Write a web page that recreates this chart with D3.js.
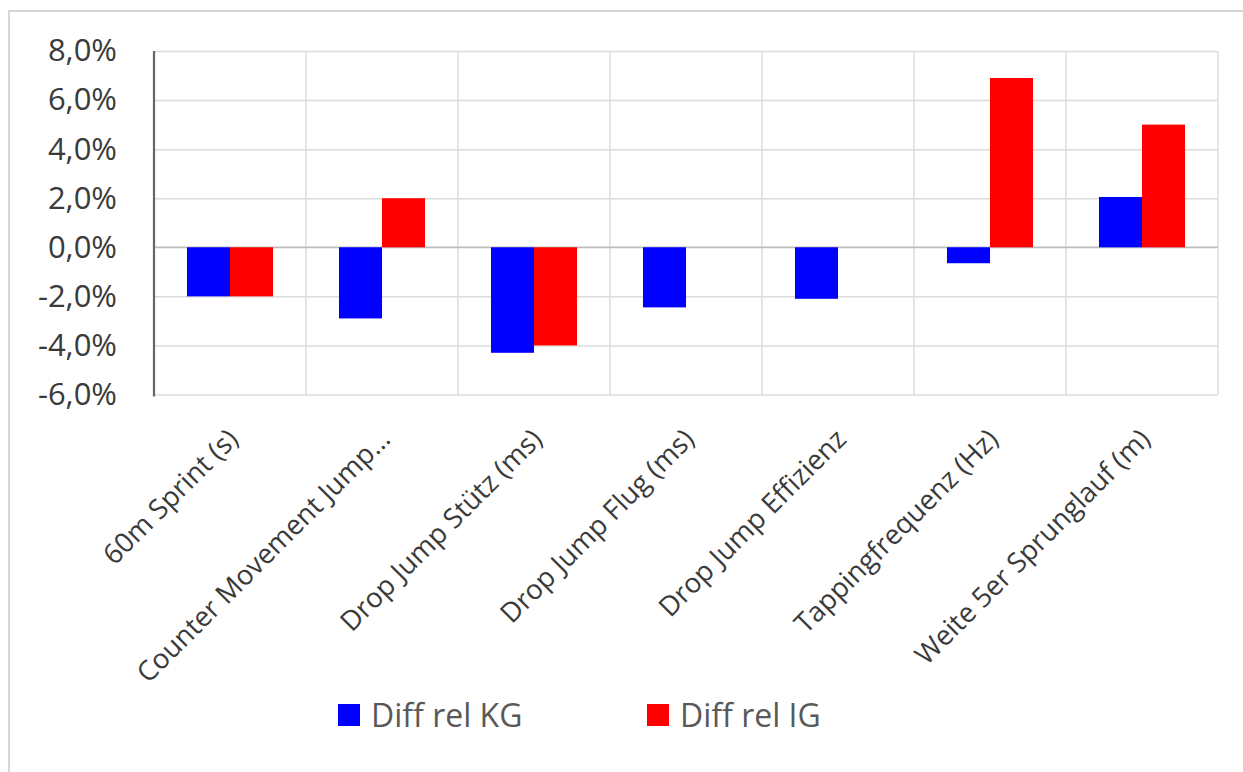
<!DOCTYPE html>
<html>
<head>
<meta charset="utf-8">
<script src="https://cdn.jsdelivr.net/npm/d3@7"></script>
<style>
  html, body { margin: 0; padding: 0; background: #ffffff; }
  svg { display: block; }
  text { font-family: "Open Sans", "Noto Sans", sans-serif; }
</style>
</head>
<body>
<svg id="chart" width="1243" height="772"></svg>
<script>
// Categories (test items) and relative differences in percent
const categories = [
  "60m Sprint (s)",
  "Counter Movement Jump…",
  "Drop Jump Stütz (ms)",
  "Drop Jump Flug (ms)",
  "Drop Jump Effizienz",
  "Tappingfrequenz (Hz)",
  "Weite 5er Sprunglauf (m)"
];
const seriesNames = ["Diff rel KG", "Diff rel IG"];
const diffKG = [-2.0, -2.9, -4.3, -2.45, -2.1, -0.65, 2.05];
const diffIG = [-2.0, 2.0, -4.0, 0, 0, 6.9, 5.0];
const yTicks = [-6, -4, -2, 0, 2, 4, 6, 8];
const seriesColors = ["#0000ff", "#ff0000"];

const svg = d3.select("#chart");
const W = 1243, H = 772;
const plot = { left: 154, right: 1218, top: 51, bottom: 394.5 };

// outer chart frame (extends past the right/bottom edge)
svg.append("rect")
  .attr("x", 9).attr("y", 11)
  .attr("width", W + 20).attr("height", H + 20)
  .attr("fill", "#ffffff")
  .attr("stroke", "#d6d6d6")
  .attr("stroke-width", 2);

const y = d3.scaleLinear().domain([-6, 8]).range([plot.bottom, plot.top]);
const x0 = d3.scaleBand().domain(categories).range([plot.left, plot.right]).padding(0);
const bw = x0.bandwidth();
const x1 = d3.scaleBand().domain(seriesNames).range([bw * 0.217, bw * 0.783]).padding(0);

const rows = categories.map((c, i) => ({ cat: c, values: [diffKG[i], diffIG[i]] }));

// horizontal gridlines
const yGrid = d3.axisLeft(y).tickValues(yTicks).tickSize(-(plot.right - plot.left)).tickFormat("");
const gy = svg.append("g").attr("transform", `translate(${plot.left},0)`).call(yGrid);
gy.select(".domain").remove();
gy.selectAll("line").attr("stroke", "#dcdcdc").attr("stroke-width", 1.5);

// vertical gridlines at category boundaries
const bounds = categories.map(c => x0(c)).concat([plot.right]);
svg.append("g").selectAll("line").data(bounds).join("line")
  .attr("x1", d => d).attr("x2", d => d)
  .attr("y1", plot.top).attr("y2", plot.bottom)
  .attr("stroke", "#dcdcdc").attr("stroke-width", 1.5);

// zero line
svg.append("line")
  .attr("x1", plot.left).attr("x2", plot.right)
  .attr("y1", y(0)).attr("y2", y(0))
  .attr("stroke", "#bdbdbd").attr("stroke-width", 1.5);

// bars
const groups = svg.append("g").selectAll("g").data(rows).join("g")
  .attr("transform", d => `translate(${x0(d.cat)},0)`);
groups.selectAll("rect")
  .data(d => d.values.map((v, j) => ({ v, s: seriesNames[j], j })))
  .join("rect")
  .filter(d => d.v !== 0)
  .attr("x", d => x1(d.s))
  .attr("width", x1.bandwidth())
  .attr("y", d => y(Math.max(0, d.v)))
  .attr("height", d => Math.abs(y(d.v) - y(0)))
  .attr("fill", d => seriesColors[d.j]);

// y axis line and tick labels (German decimal comma, plain hyphen minus)
const pct = d => d3.format(".1f")(d).replace("−", "-").replace(".", ",") + "%";
const yAxis = d3.axisLeft(y).tickValues(yTicks).tickSize(0).tickPadding(37).tickFormat(pct);
const ga = svg.append("g").attr("transform", `translate(${plot.left},0)`).call(yAxis);
ga.select(".domain").attr("stroke", "#666666").attr("stroke-width", 2.2)
  .attr("d", `M0,${plot.top}V${plot.bottom + 2}`);
ga.selectAll("text")
  .attr("fill", "#3a3a3a")
  .style("font-size", "31px")
  .style("font-family", "'Open Sans', sans-serif");

// rotated category labels
svg.append("g").selectAll("text").data(categories).join("text")
  .attr("transform", d => `translate(${x0(d) + bw / 2 + 4},435) rotate(-45)`)
  .attr("text-anchor", "end")
  .attr("dy", "0.3em")
  .attr("fill", "#3a3a3a")
  .style("font-size", "27.5px")
  .text(d => d);

// legend
const legendX = [338, 647];
const lg = svg.append("g").selectAll("g").data(seriesNames).join("g")
  .attr("transform", (d, i) => `translate(${legendX[i]},704)`);
lg.append("rect").attr("width", 22).attr("height", 22)
  .attr("fill", (d, i) => seriesColors[i]);
lg.append("text").attr("x", 33).attr("y", 11).attr("dy", "0.36em")
  .attr("fill", "#595959")
  .style("font-size", "32px")
  .text(d => d);
</script>
</body>
</html>
